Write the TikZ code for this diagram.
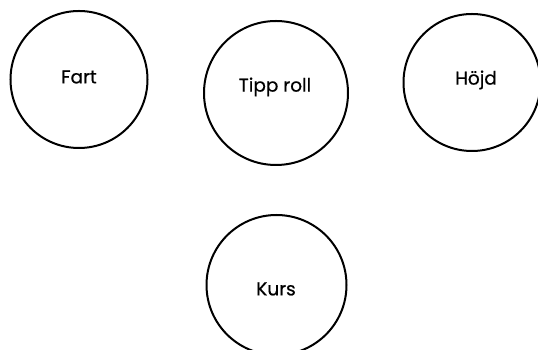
\documentclass[tikz,border=0pt]{standalone}
\usepackage{fontspec}
\setmainfont{Poppins}[FakeBold=0.6]
\begin{document}
\begin{tikzpicture}[x=1pt,y=1pt,
  state/.style={circle,draw=black,line width=2pt,inner sep=0pt},
  lbl/.style={inner sep=0pt,font=\fontsize{18.5}{22}\selectfont}]
\useasboundingbox (0,0) rectangle (538,350);
\clip (0,0) rectangle (538,350);
\fill[white] (0,0) rectangle (538,350);
\node[state,minimum size=137pt] (fart) at (79,270.5) {};
\node[state,minimum size=144pt] (tipp) at (276,257) {};
\node[state,minimum size=137pt] (hojd) at (472,267.5) {};
\node[state,minimum size=140pt] (kurs) at (276.5,65) {};
\node[lbl] (tfart) at (79,273) {Fart};
\node[lbl] (ttipp) at (275,263) {Tipp roll};
\node[lbl] (thojd) at (476,270) {Höjd};
\node[lbl] (tkurs) at (276,61) {Kurs};
\end{tikzpicture}
\end{document}
